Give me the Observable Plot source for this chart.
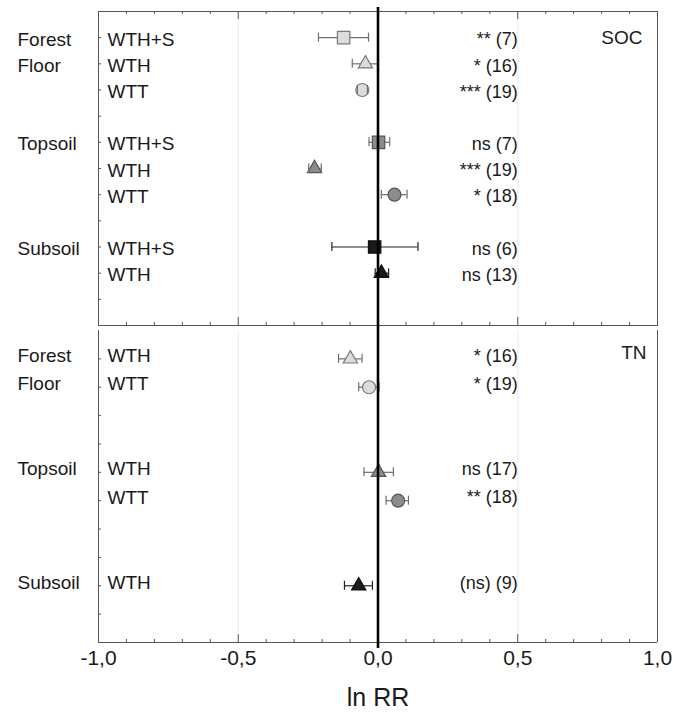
<!DOCTYPE html>
<html>
<head>
<meta charset="utf-8">
<script src="https://cdn.jsdelivr.net/npm/d3@7"></script>
<script src="https://cdn.jsdelivr.net/npm/@observablehq/plot@0.6"></script>
<style>
  body { margin: 0; background: #ffffff; }
  #chart { width: 673px; }
  #chart svg { display: block; }
</style>
</head>
<body>
<div id="chart"></div>
<script>
// ---------- data ----------
const groupOrder = ["Forest Floor", "Topsoil", "Subsoil"];
const xTickValues = [-1, -0.5, 0, 0.5, 1];
const xMinorTicks = [-0.9, -0.8, -0.7, -0.6, -0.4, -0.3, -0.2, -0.1, 0.1, 0.2, 0.3, 0.4, 0.6, 0.7, 0.8, 0.9];
const xGridValues = [-0.5, 0.5];
const xLabel = "ln RR";

// SOC panel
const socName = "SOC";
const socGroups = ["Forest Floor", "Forest Floor", "Forest Floor", "Topsoil", "Topsoil", "Topsoil", "Subsoil", "Subsoil"];
const socTreatments = ["WTH+S", "WTH", "WTT", "WTH+S", "WTH", "WTT", "WTH+S", "WTH"];
const socMean = [-0.123, -0.045, -0.056, 0.002, -0.227, 0.059, -0.012, 0.012];
const socLow = [-0.213, -0.092, -0.074, -0.032, -0.248, 0.012, -0.165, -0.010];
const socHigh = [-0.034, 0.000, -0.038, 0.042, -0.203, 0.104, 0.143, 0.038];
const socSig = ["**", "*", "***", "ns", "***", "*", "ns", "ns"];
const socN = [7, 16, 19, 7, 19, 18, 6, 13];

// TN panel
const tnName = "TN";
const tnGroups = ["Forest Floor", "Forest Floor", "Topsoil", "Topsoil", "Subsoil"];
const tnTreatments = ["WTH", "WTT", "WTH", "WTT", "WTH"];
const tnMean = [-0.099, -0.032, 0.002, 0.072, -0.069];
const tnLow = [-0.141, -0.069, -0.050, 0.029, -0.120];
const tnHigh = [-0.057, 0.004, 0.055, 0.109, -0.020];
const tnSig = ["*", "*", "ns", "**", "(ns)"];
const tnN = [16, 19, 17, 18, 9];

// ---------- styles ----------
const FONT = "'Liberation Sans', Arial, Helvetica, sans-serif";
const groupFill = {"Forest Floor": "#dcdcdc", "Topsoil": "#8c8c8c", "Subsoil": "#1a1a1a"};
const groupStroke = {"Forest Floor": "#7a7a7a", "Topsoil": "#555555", "Subsoil": "#111111"};
const barStroke = {"Forest Floor": "#6e6e6e", "Topsoil": "#6e6e6e", "Subsoil": "#222222"};
const symbolR = {"square": 7.0, "triangle": 5.3, "circle": 6.5};
const treatmentSymbol = {"WTH+S": "square", "WTH": "triangle", "WTT": "circle"};
const frameColor = "#555555";

const W = 673, ML = 98, MR = 16;
const pxPerX = (W - ML - MR) / 2;

function rowsFor(groups) {
  const seen = {};
  return groups.map(g => {
    const gi = groupOrder.indexOf(g);
    seen[g] = (seen[g] ?? -1) + 1;
    return 1 + 4 * gi + seen[g];
  });
}

function panel(cfg) {
  const rows = rowsFor(cfg.groups);
  const data = cfg.groups.map((g, i) => ({
    group: g, treatment: cfg.treatments[i], row: rows[i],
    mean: cfg.mean[i], low: cfg.low[i], high: cfg.high[i],
    note: `${cfg.sig[i]} (${cfg.n[i]})`
  }));
  const ymax = d3.max(rows) + 2;
  const innerH = cfg.height - cfg.marginTop - cfg.marginBottom;
  const pxY = innerH / ymax;            // px per row unit
  const py = px => px / pxY;            // px -> row units
  const px = p => p / pxPerX;           // px -> x units

  const groupLabels = [];
  groupOrder.forEach(g => {
    const first = d3.min(data.filter(d => d.group === g), d => d.row);
    if (first == null) return;
    g.split(" ").forEach((w, k) => groupLabels.push({text: w, row: first + k}));
  });

  const tickRows = d3.range(1, ymax);
  const capH = py(4.5);

  const marks = [
    Plot.ruleX(xGridValues, {y1: 0, y2: ymax, stroke: "#ececec", strokeWidth: 1}),
  ];
  if (cfg.top) {
    marks.push(Plot.frame({stroke: frameColor, strokeWidth: 1}));
    marks.push(Plot.ruleX(xMinorTicks, {y1: 0, y2: py(3), stroke: frameColor}));
    marks.push(Plot.ruleX(xTickValues, {y1: 0, y2: py(8), stroke: frameColor}));
  } else {
    marks.push(Plot.ruleX([-1, 1], {y1: 0, y2: ymax, stroke: frameColor}));
    marks.push(Plot.ruleY([ymax], {x1: -1, x2: 1, stroke: frameColor}));
  }
  marks.push(
    Plot.ruleX(xMinorTicks, {y1: ymax, y2: ymax - py(3), stroke: frameColor}),
    Plot.ruleX(xTickValues, {y1: ymax, y2: ymax - py(8), stroke: frameColor}),
    Plot.ruleY(tickRows, {x1: -1, x2: -1 + px(3), stroke: frameColor}),
    // error bars
    Plot.ruleY(data, {y: "row", x1: "low", x2: "high", stroke: d => barStroke[d.group], strokeWidth: 1.2}),
  );
  for (const sym of ["square", "triangle", "circle"]) {
    marks.push(Plot.dot(data.filter(d => treatmentSymbol[d.treatment] === sym), {
      x: "mean", y: "row", symbol: sym, r: symbolR[sym],
      fill: d => groupFill[d.group], stroke: d => groupStroke[d.group], strokeWidth: 1.2
    }));
  }
  marks.push(
    Plot.ruleX(data, {x: "low", y1: d => d.row - capH, y2: d => d.row + capH, stroke: d => barStroke[d.group], strokeWidth: 1.2}),
    Plot.ruleX(data, {x: "high", y1: d => d.row - capH, y2: d => d.row + capH, stroke: d => barStroke[d.group], strokeWidth: 1.2}),
    // zero reference line
    Plot.ruleX([0], {y1: cfg.zeroFrom, y2: cfg.zeroTo, stroke: "#000000", strokeWidth: 2.6}),
    // labels
    Plot.text(groupLabels, {x: -1, y: "row", text: "text", dx: -81, dy: cfg.textDy, textAnchor: "start",
      fontSize: 19, fontFamily: FONT, fill: "#1a1a1a"}),
    Plot.text(data, {x: -1, y: "row", text: "treatment", dx: 9, dy: cfg.textDy, textAnchor: "start",
      fontSize: 19, fontFamily: FONT, fill: "#1a1a1a"}),
    Plot.text(data, {x: 0.5, y: "row", text: "note", dy: cfg.textDy, textAnchor: "end",
      fontSize: 18, fontFamily: FONT, fill: "#1a1a1a"}),
    Plot.text([cfg.name], {x: 1, y: 1, text: d => d, dx: cfg.nameDx, dy: cfg.nameDy, textAnchor: "end",
      fontSize: 19, fontFamily: FONT, fill: "#1a1a1a"})
  );
  if (cfg.bottomAxis) {
    marks.push(Plot.text([xLabel], {frameAnchor: "bottom", text: d => d, dy: 63,
      fontSize: 25, fontFamily: FONT, fill: "#1a1a1a"}));
  }

  return Plot.plot({
    width: W,
    height: cfg.height,
    marginLeft: ML,
    marginRight: MR,
    marginTop: cfg.marginTop,
    marginBottom: cfg.marginBottom,
    style: {fontFamily: FONT, fontSize: "21px", background: "#ffffff", color: "#1a1a1a", overflow: "visible"},
    x: cfg.bottomAxis
      ? {domain: [-1, 1], ticks: xTickValues, tickFormat: d => d.toFixed(1).replace(".", ","),
         tickSize: 0, tickPadding: 8, label: null}
      : {domain: [-1, 1], axis: null},
    y: {domain: [0, ymax], reverse: true, axis: null},
    marks
  });
}

const chart = document.getElementById("chart");
const h1 = 330, mt1 = 11, mb1 = 5;
const unit1 = (h1 - mt1 - mb1) / 12;
chart.append(panel({
  name: socName, groups: socGroups, treatments: socTreatments, mean: socMean, low: socLow, high: socHigh,
  sig: socSig, n: socN, height: h1, marginTop: mt1, marginBottom: mb1, top: true, bottomAxis: false,
  textDy: 2, nameDx: -15, nameDy: 0,
  zeroFrom: -4 / unit1, zeroTo: 12 + mb1 / unit1
}));
const h2 = 394, mt2 = 0, mb2 = 82;
const unit2 = (h2 - mt2 - mb2) / 11;
chart.append(panel({
  name: tnName, groups: tnGroups, treatments: tnTreatments, mean: tnMean, low: tnLow, high: tnHigh,
  sig: tnSig, n: tnN, height: h2, marginTop: mt2, marginBottom: mb2, top: false, bottomAxis: true,
  textDy: -3, nameDx: -11, nameDy: -6,
  zeroFrom: 0, zeroTo: 11 + 6 / unit2
}));
</script>
</body>
</html>
